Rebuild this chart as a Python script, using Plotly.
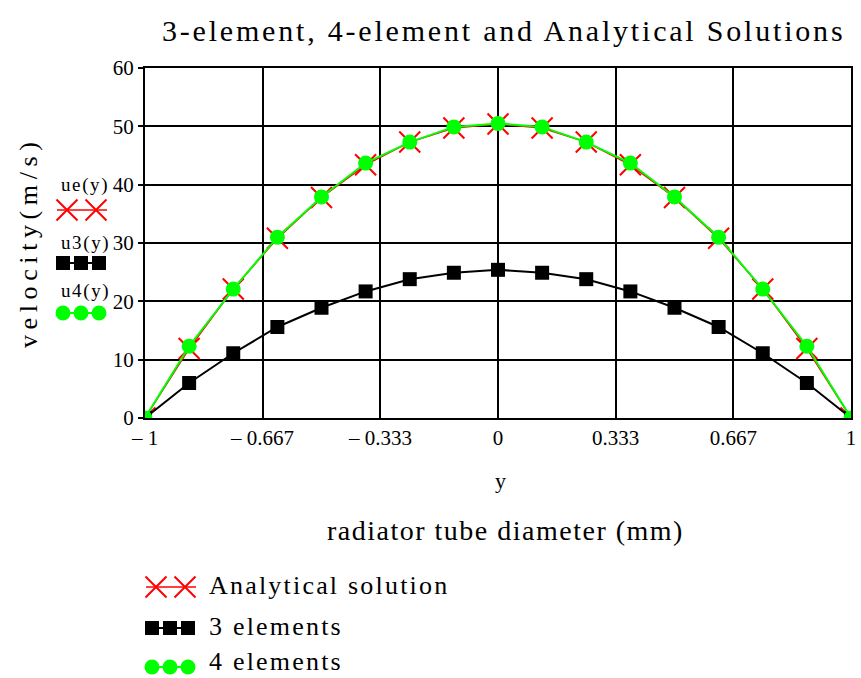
import plotly.graph_objects as go

# ---- data ----
y_pos = [-1, -0.875, -0.75, -0.625, -0.5, -0.375, -0.25, -0.125, 0,
         0.125, 0.25, 0.375, 0.5, 0.625, 0.75, 0.875, 1]
u_analytical = [0, 11.9, 22.1, 30.8, 37.8, 43.4, 47.3, 49.7, 50.4,
                49.7, 47.3, 43.4, 37.8, 30.8, 22.1, 11.9, 0]
u_3elem = [0, 6.0, 11.1, 15.6, 18.9, 21.7, 23.8, 24.9, 25.4,
           24.9, 23.8, 21.7, 18.9, 15.6, 11.1, 6.0, 0]
u_4elem = [0, 12.3, 22.1, 31.0, 37.9, 43.7, 47.3, 49.9, 50.5,
           49.9, 47.3, 43.7, 37.9, 31.0, 22.1, 12.3, 0]

x_tickvals = [-1, -0.667, -0.333, 0, 0.333, 0.667, 1]
x_ticktext = ["\u2013 1", "\u2013 0.667", "\u2013 0.333", "0", "0.333", "0.667", "1"]
y_tickvals = [0, 10, 20, 30, 40, 50, 60]

series_names = ["Analytical solution", "3 elements", "4 elements"]
side_labels = ["ue(y)", "u3(y)", "u4(y)"]

W, H = 861, 678
FONT = "Liberation Serif, Times New Roman, serif"
RED, BLACK, GREEN = "#ff0000", "#000000", "#00ff00"

# plot area in pixels
L, R, T, B = 145, 851, 68, 418

fig = go.Figure()

fig.add_trace(go.Scatter(x=y_pos, y=u_analytical, mode="lines+markers",
                         line=dict(color=RED, width=1.5),
                         marker=dict(symbol="x-thin-open", size=21, color=RED,
                                     line=dict(color=RED, width=2)),
                         showlegend=False))
fig.add_trace(go.Scatter(x=y_pos, y=u_3elem, mode="lines+markers",
                         line=dict(color=BLACK, width=2),
                         marker=dict(symbol="square", size=14, color=BLACK),
                         showlegend=False))
fig.add_trace(go.Scatter(x=y_pos, y=u_4elem, mode="lines+markers",
                         line=dict(color=GREEN, width=2),
                         marker=dict(symbol="circle", size=15, color=GREEN),
                         showlegend=False))


def glyph(x0, yc, kind):
    # x0 = left end of the glyph line (pixels)
    if kind == 0:
        fig.add_trace(go.Scatter(x=[x0, x0 + 50], y=[yc, yc], mode="lines",
                                 line=dict(color=RED, width=1.5), xaxis="x2", yaxis="y2",
                                 showlegend=False, hoverinfo="skip"))
        fig.add_trace(go.Scatter(x=[x0 + 10, x0 + 39], y=[yc, yc], mode="markers",
                                 marker=dict(symbol="x-thin-open", size=21, color=RED,
                                             line=dict(color=RED, width=2)),
                                 xaxis="x2", yaxis="y2", showlegend=False, hoverinfo="skip"))
    elif kind == 1:
        fig.add_trace(go.Scatter(x=[x0 + 6, x0 + 24, x0 + 42], y=[yc] * 3, mode="lines+markers",
                                 line=dict(color=BLACK, width=2),
                                 marker=dict(symbol="square", size=14, color=BLACK),
                                 xaxis="x2", yaxis="y2", showlegend=False, hoverinfo="skip"))
    else:
        fig.add_trace(go.Scatter(x=[x0 + 6, x0 + 24, x0 + 42], y=[yc] * 3, mode="lines+markers",
                                 line=dict(color=GREEN, width=2),
                                 marker=dict(symbol="circle", size=15, color=GREEN),
                                 xaxis="x2", yaxis="y2", showlegend=False, hoverinfo="skip"))


side_y = [210, 263, 313]
for i in range(3):
    glyph(57, side_y[i], i)
bottom_glyph_y = [587, 628, 667]
for i in range(3):
    glyph(146, bottom_glyph_y[i], i)


def spaced(t, ls):
    return '<span style="letter-spacing:%spx">%s</span>' % (ls, t)


annotations = [
    dict(text=spaced("3-element, 4-element and Analytical Solutions", 2.8), x=503, y=30,
         font=dict(size=30)),
    dict(text=spaced("velocity(m/s)", 5.6), x=28, y=243, textangle=-90, font=dict(size=26)),
    dict(text="y", x=500, y=480, font=dict(size=22)),
    dict(text=spaced("radiator tube diameter (mm)", 1.5), x=505, y=530, font=dict(size=28)),
]
side_text_y = [185, 243, 291]
for i, t in enumerate(side_labels):
    annotations.append(dict(text=spaced(t, 1.6), x=59, y=side_text_y[i], xanchor="left",
                            font=dict(size=19)))
bottom_text_y = [585, 626, 661]
for i, t in enumerate(series_names):
    annotations.append(dict(text=spaced(t, 2.2), x=207, y=bottom_text_y[i], xanchor="left",
                            font=dict(size=26)))
for a in annotations:
    a.setdefault("xanchor", "center")
    a.update(xref="x2", yref="y2", showarrow=False, yanchor="middle")
    a["font"].update(family=FONT, color="black")

fig.update_layout(
    width=W, height=H,
    margin=dict(l=0, r=0, t=0, b=0, pad=0),
    paper_bgcolor="white", plot_bgcolor="rgba(0,0,0,0)",
    font=dict(family=FONT, color="black"),
    xaxis=dict(domain=[L / W, R / W], range=[-1, 1],
               tickvals=x_tickvals, ticktext=x_ticktext,
               tickfont=dict(size=21, family=FONT), showgrid=True, gridcolor="black",
               gridwidth=2, showline=True, linecolor="black", linewidth=2, mirror=True,
               zeroline=False, ticks="", anchor="y", automargin=False),
    yaxis=dict(domain=[1 - B / H, 1 - T / H], range=[0, 60], tickvals=y_tickvals,
               tickfont=dict(size=21, family=FONT), showgrid=True, gridcolor="black",
               gridwidth=2, showline=True, linecolor="black", linewidth=2, mirror=True,
               zeroline=False, ticks="outside", ticklen=5, tickwidth=2, tickcolor="black",
               anchor="x", automargin=False),
    xaxis2=dict(domain=[0, 1], range=[0, W], visible=False, anchor="y2", automargin=False),
    yaxis2=dict(domain=[0, 1], range=[H, 0], visible=False, anchor="x2", automargin=False),
    annotations=annotations,
    showlegend=False,
)

fig.write_html("out.html", config={"displayModeBar": False},
               post_script="document.body.style.margin='0';document.body.style.overflow='hidden';")
